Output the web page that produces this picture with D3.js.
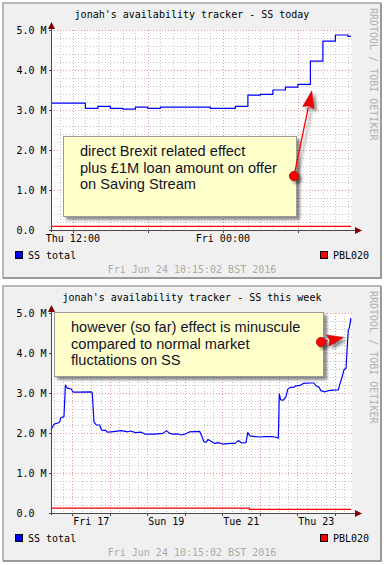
<!DOCTYPE html>
<html>
<head>
<meta charset="utf-8">
<script src="https://cdn.jsdelivr.net/npm/d3@7"></script>
<style>
  body { margin: 0; background: #fff; }
  svg text { font-family: "DejaVu Sans Mono", monospace; font-size: 10px; }
  .note text { font-family: "Liberation Sans", Arial, sans-serif; font-size: 14.6px; fill: #111128; }
</style>
</head>
<body>
<svg id="chart" width="386" height="565"></svg>
<script>
const yTicks = [0, 1, 2, 3, 4, 5];

// today: hours since Thu 23 Jun 10:15, values in millions
const todayHours = [0, 2.75, 3.75, 4.75, 5.75, 6.75, 7.75, 8.75, 12.75, 14.75, 15.75, 16.75,
  17.75, 18.75, 19.75, 20.75, 21.75, 22.75, 23.75, 24];
const todaySS = [3.17, 3.04, 3.09, 3.04, 3.02, 3.07, 3.04, 3.07, 3.04, 3.09, 3.37, 3.39,
  3.50, 3.57, 3.64, 4.22, 4.72, 4.875, 4.84, 4.84];
const todayPblHours = [0, 24];
const todayPbl = [0.09, 0.09];

// week: hours since Thu 16 Jun 10:15
const weekHours = [0, 1.9, 3.4, 4.5, 5.6, 6.2, 8.3, 9.2, 10.4, 13, 14.1, 17.3, 25.8, 26.4, 27.5,
  29, 31.2, 32.2, 33.9, 34.8, 36, 38.6, 45, 49.3, 51, 54, 57.8, 60.4, 66.4, 71.7, 73.8, 76, 78,
  81.7, 83.4, 85.6, 88.8, 95.2, 96.6, 97.9, 99.4, 100.5, 102.6, 104.8, 106.9, 110.3, 114.6,
  117.8, 119.9, 122, 124.8, 125.9, 127.4, 130.6, 133.8, 137, 141.2, 143.4, 145.5, 146.1, 147,
  148.7, 150.4, 151.5, 153, 155.1, 156.8, 159.4, 161.5, 165.8, 168.3, 169.6, 171.7, 172.6,
  175.4, 177.5, 180.7, 183.9, 185, 186.1, 187.5, 188.8, 189.6, 190.3, 190.9, 191.4, 192];
const weekSS = [2.08, 2.22, 2.24, 2.25, 2.28, 2.38, 2.41, 3.2, 3.12, 3.1, 3.02, 3.02, 3.03, 3.0,
  2.28, 2.2, 2.2, 2.08, 2.06, 2.07, 2.02, 2.03, 2.06, 2.03, 2.05, 2.01, 2.02, 1.97, 1.97, 1.99,
  2.06, 1.99, 1.97, 1.97, 1.95, 1.97, 2.03, 2.04, 1.91, 1.78, 1.77, 1.84, 1.79, 1.74, 1.76,
  1.72, 1.74, 1.74, 1.81, 1.75, 1.76, 2.01, 1.93, 1.91, 1.9, 1.91, 1.91, 1.9, 1.87, 2.98, 2.83,
  2.82, 2.91, 3.09, 3.14, 3.14, 3.18, 3.19, 3.24, 3.25, 3.25, 3.18, 3.14, 3.06, 3.03, 3.06,
  3.07, 3.08, 3.24, 3.37, 3.58, 3.62, 4.16, 4.58, 4.62, 4.74, 4.87];
const weekPblHours = [0, 127, 192];
const weekPbl = [0.12, 0.09, 0.09];

const titles = ["jonah's availability tracker - SS today", "jonah's availability tracker - SS this week"];
const legendNames = ["SS total", "PBL020"];
const stamp = "Fri Jun 24 10:15:02 BST 2016";
const noteLines = [
  ["direct Brexit related effect", "plus \u00a31M loan amount on offer", "on Saving Stream"],
  ["however (so far) effect is minuscule", "compared to normal market", "fluctations on SS"]
];

translate = function(a, b) {
  return "translate(" + a + ", " + b + ")";
}

toPoints = function(start, hours, values) {
  return hours.map((h, i) => ({ t: new Date(start.getTime() + h * 3600000), v: values[i] }));
}

drawPanel = function(svg, opt) {
  const g = svg.append("g").attr("transform", translate(0, opt.top));

  // frame
  g.append("rect").attr("x", 2).attr("y", 2).attr("width", 380).attr("height", 277).attr("fill", "#f0f0f0");
  g.append("path").attr("d", "M3,278V3H381").attr("fill", "none").attr("stroke", "#b8b8b8").attr("stroke-width", 2);
  g.append("path").attr("d", "M381,3V278H3").attr("fill", "none").attr("stroke", "#9a9a9a").attr("stroke-width", 2);

  const end = new Date(opt.start.getTime() + opt.span * 3600000);
  const x = d3.scaleTime().domain([opt.start, end]).range([51, 351]);
  const y = d3.scaleLinear().domain([0, 5]).range([230, 30]);
  const px = v => Math.round(v) + 0.5;

  g.append("rect").attr("x", 51).attr("y", 30).attr("width", 301).attr("height", 200).attr("fill", "#fff");

  const grid = g.append("g").attr("shape-rendering", "crispEdges").attr("stroke-dasharray", "1,2");

  // minor grid
  grid.selectAll("line.hmin")
    .data(y.ticks(25).filter(v => Math.abs(v - Math.round(v)) > 0.01))
    .enter().append("line")
    .attr("x1", 51).attr("x2", 352)
    .attr("y1", d => px(y(d))).attr("y2", d => px(y(d)))
    .attr("stroke", "#c4c4c4");

  grid.selectAll("line.vmin")
    .data(opt.minor.range(opt.start, end))
    .enter().append("line")
    .attr("y1", 30).attr("y2", 230)
    .attr("x1", d => px(x(d))).attr("x2", d => px(x(d)))
    .attr("stroke", "#c4c4c4");

  // major grid
  grid.selectAll("line.hmaj")
    .data(yTicks.slice(1))
    .enter().append("line")
    .attr("x1", 51).attr("x2", 352)
    .attr("y1", d => px(y(d))).attr("y2", d => px(y(d)))
    .attr("stroke", "#ec9a9a");

  const majors = opt.major.range(opt.start, end);
  grid.selectAll("line.vmaj")
    .data(majors)
    .enter().append("line")
    .attr("y1", 30).attr("y2", 230)
    .attr("x1", d => px(x(d))).attr("x2", d => px(x(d)))
    .attr("stroke", "#ec9a9a");

  // series
  const line = d3.line().x(d => x(d.t)).y(d => y(d.v));

  g.append("path")
    .datum(toPoints(opt.start, opt.pblHours, opt.pbl))
    .attr("d", line.curve(d3.curveStepAfter))
    .attr("fill", "none").attr("stroke", "#ff0000").attr("stroke-width", 1.2);

  g.append("path")
    .datum(toPoints(opt.start, opt.ssHours, opt.ss))
    .attr("d", line.curve(opt.curve))
    .attr("fill", "none").attr("stroke", "#0000ff").attr("stroke-width", 1.2)
    .attr("stroke-linejoin", "round");

  // axes
  const axis = g.append("g").attr("shape-rendering", "crispEdges").attr("stroke", "#4a4a4a");
  axis.append("line").attr("x1", 49).attr("x2", 357).attr("y1", 230.5).attr("y2", 230.5);
  axis.append("line").attr("x1", 51.5).attr("x2", 51.5).attr("y1", 232).attr("y2", 27);
  axis.selectAll("line.tick")
    .data(majors)
    .enter().append("line")
    .attr("x1", d => px(x(d))).attr("x2", d => px(x(d)))
    .attr("y1", 230).attr("y2", 233);
  axis.selectAll("line.ytick")
    .data(yTicks)
    .enter().append("line")
    .attr("x1", 49).attr("x2", 51)
    .attr("y1", d => px(y(d))).attr("y2", d => px(y(d)));

  g.append("path").attr("d", "M51.5,22L48,29L55,29Z").attr("fill", "#7f0000");
  g.append("path").attr("d", "M362,230.5L355,227L355,234Z").attr("fill", "#7f0000");

  // labels
  g.selectAll("text.ylab")
    .data(yTicks)
    .enter().append("text")
    .attr("x", 16.5)
    .attr("y", d => y(d) + 3.8)
    .attr("fill", "#000")
    .text(d => d === 0 ? "0.0" : d.toFixed(1) + " M");

  const fmt = d3.timeFormat(opt.labelFormat);
  g.selectAll("text.xlab")
    .data(opt.labels.range(opt.start, end))
    .enter().append("text")
    .attr("x", d => x(new Date(d.getTime() + opt.labelShift * 3600000)))
    .attr("y", 242)
    .attr("text-anchor", "middle")
    .attr("fill", "#000")
    .text(d => fmt(d));

  g.append("text")
    .attr("x", 192).attr("y", 17.5)
    .attr("text-anchor", "middle")
    .text(opt.title);

  g.append("text")
    .attr("transform", translate(369.5, 8) + " rotate(90)")
    .attr("fill", "#b0b0b0")
    .text("RRDTOOL / TOBI OETIKER");

  // legend
  const legendX = [15, 320];
  const legendColor = ["#0000ff", "#ff0000"];
  legendNames.forEach((name, i) => {
    g.append("rect")
      .attr("x", legendX[i] + 0.5).attr("y", 251.5)
      .attr("width", 7).attr("height", 7)
      .attr("fill", legendColor[i]).attr("stroke", "#000")
      .attr("shape-rendering", "crispEdges");
    g.append("text")
      .attr("x", legendX[i] + 13).attr("y", 259)
      .text(name);
  });

  g.append("text")
    .attr("x", 192).attr("y", 273)
    .attr("text-anchor", "middle")
    .attr("fill", "#ababab")
    .text(stamp);

  // callout
  const n = opt.note;
  const note = g.append("g").attr("class", "note");
  note.append("rect")
    .attr("x", n.box[0] + 0.5).attr("y", n.box[1] + 0.5)
    .attr("width", n.box[2]).attr("height", n.box[3])
    .attr("fill", "#ffffcc").attr("stroke", "#9a9a9a")
    .attr("filter", "url(#shadow)");
  note.selectAll("text")
    .data(n.lines)
    .enter().append("text")
    .attr("x", n.textX)
    .attr("y", (d, i) => n.textY + i * 16.7)
    .text(d => d);

  const tip = [x(new Date(opt.start.getTime() + n.tip[0] * 3600000)), y(n.tip[1])];
  const dx = tip[0] - n.dot[0], dy = tip[1] - n.dot[1];
  const len = Math.sqrt(dx * dx + dy * dy);
  const ux = dx / len, uy = dy / len;
  const base = [tip[0] - ux * n.head, tip[1] - uy * n.head];
  const hw = 5.7;

  const arrow = note.append("g").attr("filter", "url(#shadow)");
  arrow.append("line")
    .attr("x1", n.dot[0]).attr("y1", n.dot[1])
    .attr("x2", base[0]).attr("y2", base[1])
    .attr("stroke", "#ff0000").attr("stroke-width", 1.3);
  arrow.append("path")
    .attr("d", "M" + tip[0] + "," + tip[1] +
      "L" + (base[0] - uy * hw) + "," + (base[1] + ux * hw) +
      "L" + (base[0] + ux * 2) + "," + (base[1] + uy * 2) +
      "L" + (base[0] + uy * hw) + "," + (base[1] - ux * hw) + "Z")
    .attr("fill", "#f00000").attr("stroke", "#c00000").attr("stroke-width", 0.6);
  arrow.append("circle")
    .attr("cx", n.dot[0]).attr("cy", n.dot[1]).attr("r", 4.6)
    .attr("fill", "#ff0000").attr("stroke", "#b00000").attr("stroke-width", 0.8);
}

const svg = d3.select("#chart");
const defs = svg.append("defs");
defs.append("filter")
  .attr("id", "shadow")
  .attr("x", "-20%").attr("y", "-20%").attr("width", "150%").attr("height", "150%")
  .append("feDropShadow")
  .attr("dx", 3).attr("dy", 3).attr("stdDeviation", 1.8)
  .attr("flood-color", "#000").attr("flood-opacity", 0.45);

drawPanel(svg, {
  top: 0,
  start: new Date(2016, 5, 23, 10, 15),
  span: 24,
  minor: d3.timeHour.every(1),
  major: d3.timeHour.every(6),
  labels: d3.timeHour.every(12),
  labelShift: 0,
  labelFormat: "%a %H:%M",
  title: titles[0],
  ssHours: todayHours, ss: todaySS,
  pblHours: todayPblHours, pbl: todayPbl,
  curve: d3.curveStepAfter,
  note: { box: [63, 136, 233, 80], lines: noteLines[0], textX: 80, textY: 156,
          dot: [294, 176], tip: [20.86, 3.475], head: 17 }
});

drawPanel(svg, {
  top: 283,
  start: new Date(2016, 5, 16, 10, 15),
  span: 192,
  minor: d3.timeHour.every(6),
  major: d3.timeDay,
  labels: d3.timeDay.every(2),
  labelShift: 12,
  labelFormat: "%a %d",
  title: titles[1],
  ssHours: weekHours, ss: weekSS,
  pblHours: weekPblHours, pbl: weekPbl,
  curve: d3.curveLinear,
  note: { box: [54, 29, 269, 64], lines: noteLines[1], textX: 71, textY: 49,
          dot: [321, 59], tip: [187.2, 4.39], head: 16 }
});
</script>
</body>
</html>
